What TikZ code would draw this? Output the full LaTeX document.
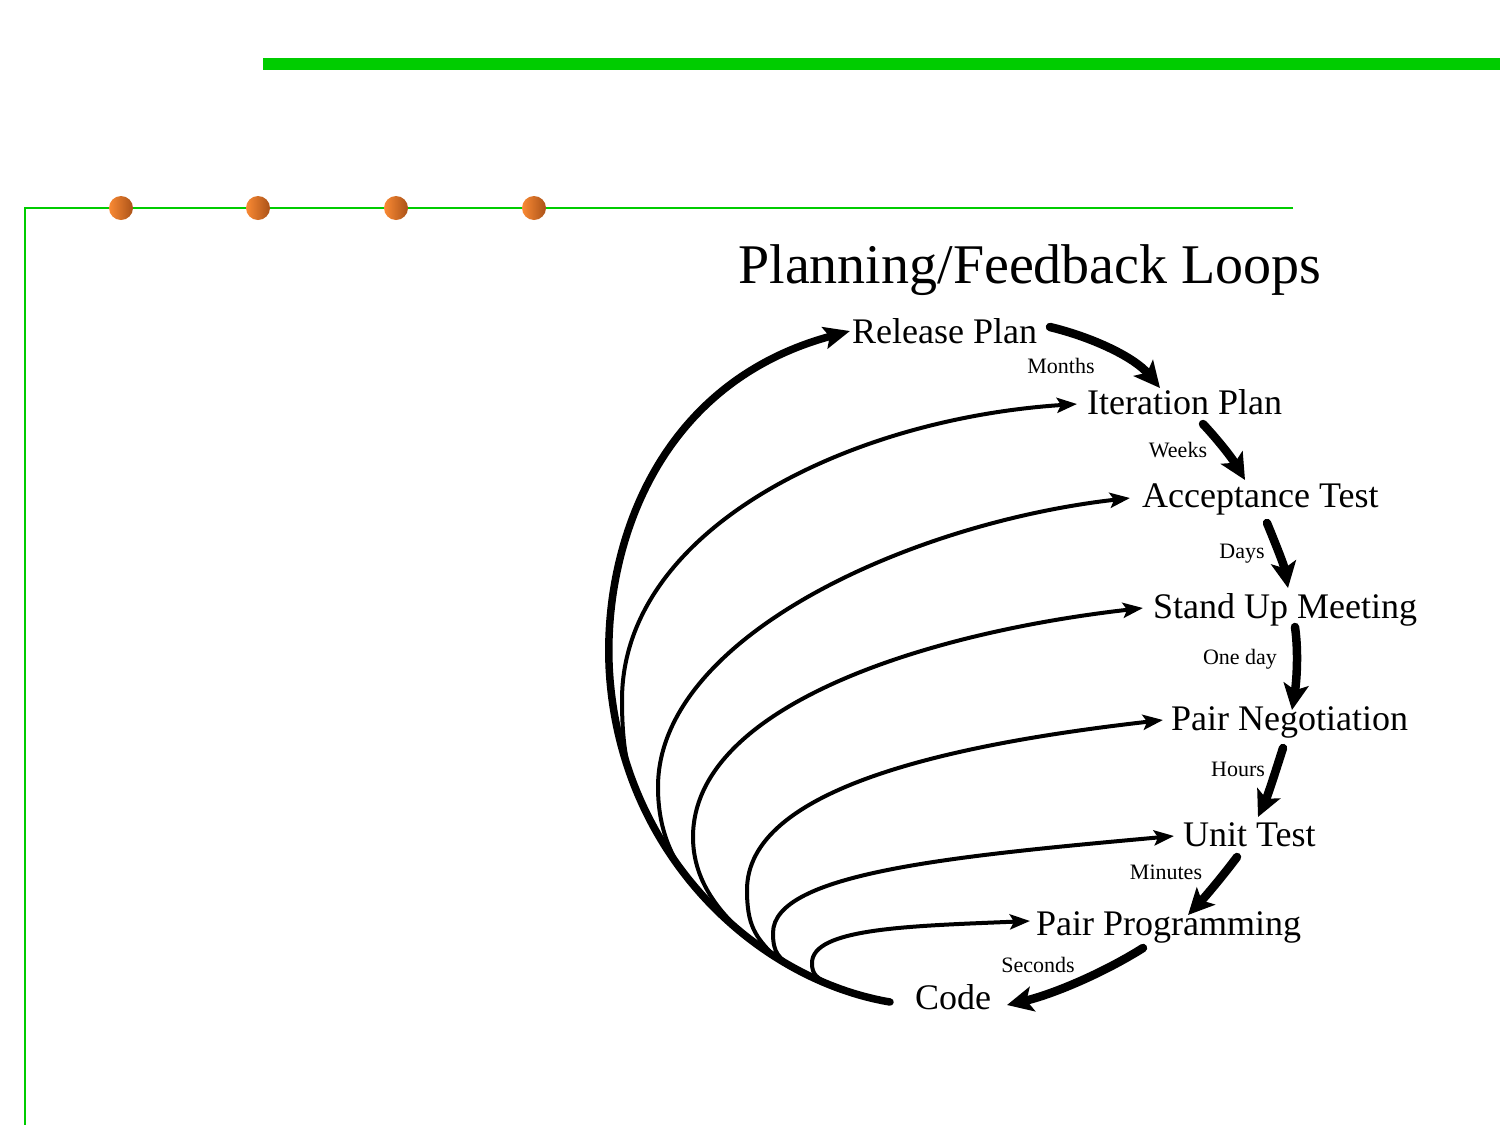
\documentclass[tikz,border=0pt]{standalone}
\usepackage{fontspec}
\setmainfont{Liberation Serif}
\usetikzlibrary{arrows.meta}
\definecolor{grn}{RGB}{0,204,0}
\definecolor{orL}{RGB}{250,138,52}
\definecolor{orD}{RGB}{170,82,24}
\begin{document}
\begin{tikzpicture}[x=1pt,y=-1pt,
 item/.style={anchor=base west, inner sep=0pt, font=\fontsize{36}{40}\selectfont},
 lbl/.style={anchor=base, inner sep=0pt, font=\fontsize{22}{24}\selectfont},
 chain/.style={line width=8.5pt, line cap=round, -{Stealth[length=26pt,width=25pt,inset=6pt]}},
 loopline/.style={line width=4pt, line cap=round, -{Stealth[length=20pt,width=15pt,inset=4pt]}},
 bigarc/.style={line width=7.5pt, line cap=round, -{Stealth[length=26pt,width=22pt,inset=5pt]}},
 dot/.style={left color=orL, right color=orD},
]
\useasboundingbox (0,0) rectangle (1500,1125);
% decoration
\fill[grn] (263,58) rectangle (1500,70);
\draw[grn, line width=2pt] (1293,208) -- (25,208) -- (25,1125);
\shade[dot] (121,208) circle (12pt);
\shade[dot] (258,208) circle (12pt);
\shade[dot] (396,208) circle (12pt);
\shade[dot] (534,208) circle (12pt);
% title
\node[anchor=base, inner sep=0pt, font=\fontsize{56}{60}\selectfont] (title) at (1030,283) {Planning/Feedback Loops};
% items
\node[item] (rp) at (852,343) {Release Plan};
\node[item] (ip) at (1087,414) {Iteration Plan};
\node[item] (acc) at (1142,507) {Acceptance Test};
\node[item] (su) at (1153,618) {Stand Up Meeting};
\node[item] (pn) at (1171,730) {Pair Negotiation};
\node[item] (ut) at (1183,846) {Unit Test};
\node[item] (pp) at (1036,935) {Pair Programming};
\node[item] (code) at (915,1009) {Code};
% labels
\node[lbl] (months) at (1061,373) {Months};
\node[lbl] (weeks) at (1178,457) {Weeks};
\node[lbl] (days) at (1242,558) {Days};
\node[lbl] (oneday) at (1240,664) {One day};
\node[lbl] (hours) at (1238,776) {Hours};
\node[lbl] (minutes) at (1166,879) {Minutes};
\node[lbl] (seconds) at (1038,972) {Seconds};
% chain arrows
\draw[chain] ([shift={(198,-16)}]rp.base west) .. controls (1095,338) and (1135,358) .. ([shift={(73,-26)}]ip.base west);
\draw[chain] ([shift={(116,10)}]ip.base west) .. controls (1218,440) and (1232,458) .. ([shift={(103,-27)}]acc.base west);
\draw[chain] ([shift={(125,16)}]acc.base west) .. controls (1276,545) and (1284,565) .. ([shift={(135,-30)}]su.base west);
\draw[chain] ([shift={(142,9)}]su.base west) .. controls (1299,655) and (1296,685) .. ([shift={(121,-20)}]pn.base west);
\draw[chain] ([shift={(112,18)}]pn.base west) .. controls (1276,770) and (1268,795) .. ([shift={(75,-29)}]ut.base west);
\draw[chain] ([shift={(54,11)}]ut.base west) .. controls (1222,877) and (1205,897) .. ([shift={(152,-20)}]pp.base west);
\draw[chain] ([shift={(107,13)}]pp.base west) .. controls (1100,975) and (1050,995) .. ([shift={(92,-4)}]code.base west);
% big arc
\draw[bigarc] ([shift={(-25,-7)}]code.base west) .. controls (760,980) and (625,860) .. (610,680)
   coordinate[pos=0.15] (m7) coordinate[pos=0.25] (m6) coordinate[pos=0.3] (m5)
   coordinate[pos=0.34] (m4) coordinate[pos=0.5] (m3) coordinate[pos=0.67] (m2)
   .. controls (600,560) and (650,385) .. ([shift={(-2,-12)}]rp.base west);
% loops
\draw[loopline] (m2) .. controls +(-25,-45) and +(0,70) .. (622,700) .. controls +(0,-170) and +(-230,15) .. ([shift={(-10,-10)}]ip.base west);
\draw[loopline] (m3) .. controls +(-30,-30) and +(0,50) .. (658,787) .. controls +(0,-150) and +(-220,25) .. ([shift={(-12,-9)}]acc.base west);
\draw[loopline] (m4) .. controls +(-40,-30) and +(0,45) .. (693,837) .. controls +(0,-130) and +(-220,25) .. ([shift={(-10,-10)}]su.base west);
\draw[loopline] (m5) .. controls +(-20,-20) and +(0,35) .. (747,890) .. controls +(0,-100) and +(-220,25) .. ([shift={(-8,-10)}]pn.base west);
\draw[loopline] (m6) .. controls +(-15,-10) and +(0,20) .. (773,933) .. controls +(0,-60) and +(-220,20) .. ([shift={(-9,-10)}]ut.base west);
\draw[loopline] (m7) .. controls +(-15,-8) and +(0,12) .. (812,963) .. controls +(0,-35) and +(-120,5) .. ([shift={(-6,-14)}]pp.base west);
\end{tikzpicture}
\end{document}
